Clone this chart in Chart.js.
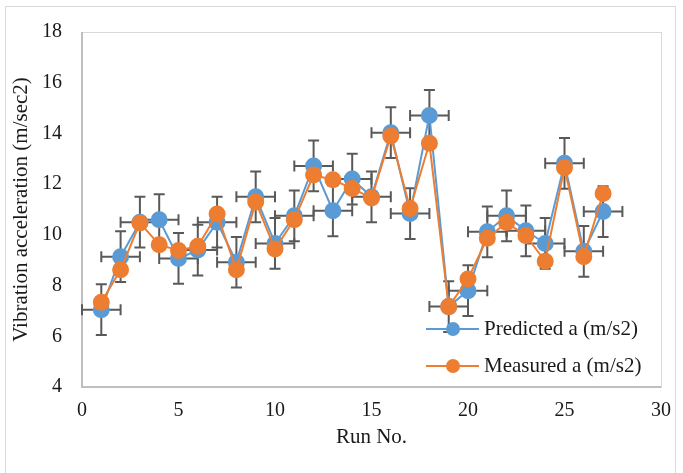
<!DOCTYPE html>
<html>
<head>
<meta charset="utf-8">
<script src="https://cdn.jsdelivr.net/npm/chart.js@4.4.0/dist/chart.umd.min.js"></script>
<style>
  html, body { margin: 0; padding: 0; background: #fff; }
  #wrap { position: relative; width: 683px; height: 473px; }
  #frame { position: absolute; left: 5px; top: 6px; width: 669px; height: 480px; border: 1px solid #d9d9d9; }
</style>
</head>
<body>
<div id="wrap">
  <div id="frame"></div>
  <canvas id="vibChart" width="683" height="473"></canvas>
</div>
<script>
var runs = [1, 2, 3, 4, 5, 6, 7, 8, 9, 10, 11, 12, 13, 14, 15, 16, 17, 18, 19, 20, 21, 22, 23, 24, 25, 26, 27];
var predicted = [7.05, 9.14, 10.5, 10.6, 9.07, 9.4, 10.5, 8.92, 11.5, 9.66, 10.75, 12.72, 10.95, 12.2, 11.5, 14.03, 10.84, 14.71, 7.17, 7.8, 10.12, 10.75, 10.16, 9.66, 12.82, 9.35, 10.92];
var measured = [7.34, 8.62, 10.47, 9.61, 9.38, 9.55, 10.82, 8.62, 11.3, 9.44, 10.6, 12.36, 12.17, 11.83, 11.45, 13.9, 11.04, 13.61, 7.17, 8.26, 9.87, 10.49, 9.97, 8.96, 12.65, 9.14, 11.63];
var xErr = 1;
var yErr = 1;
var seriesNames = ["Predicted a (m/s2)", "Measured a (m/s2)"];

var blue = '#5b9bd5';
var orange = '#ed7d31';
var fontFam = "'Liberation Serif', 'Times New Roman', serif";
var textCol = '#1a1a1a';

function pts(vals) {
    return runs.map(function (r, i) { return { x: r, y: vals[i] }; });
}

// error bars for the predicted series, drawn just under its markers
var errorBars = {
    id: 'errorBars',
    beforeDatasetDraw: function (chart, args) {
        if (args.index !== 0) return;
        var xs = chart.scales.x, ys = chart.scales.y, ctx = chart.ctx;
        var cap = 5.5;
        ctx.save();
        ctx.strokeStyle = '#595959';
        ctx.lineWidth = 2;
        runs.forEach(function (r, i) {
            var v = predicted[i];
            var px = xs.getPixelForValue(r), py = ys.getPixelForValue(v);
            var x0 = xs.getPixelForValue(r - xErr), x1 = xs.getPixelForValue(r + xErr);
            var y0 = ys.getPixelForValue(v - yErr), y1 = ys.getPixelForValue(v + yErr);
            ctx.beginPath();
            ctx.moveTo(x0, py); ctx.lineTo(x1, py);
            ctx.moveTo(x0, py - cap); ctx.lineTo(x0, py + cap);
            ctx.moveTo(x1, py - cap); ctx.lineTo(x1, py + cap);
            ctx.moveTo(px, y0); ctx.lineTo(px, y1);
            ctx.moveTo(px - cap, y0); ctx.lineTo(px + cap, y0);
            ctx.moveTo(px - cap, y1); ctx.lineTo(px + cap, y1);
            ctx.stroke();
        });
        ctx.restore();
    }
};

// plot border + legend inside the plot area
var frameAndLegend = {
    id: 'frameAndLegend',
    beforeDatasetsDraw: function (chart) {
        var a = chart.chartArea, ctx = chart.ctx;
        ctx.save();
        ctx.strokeStyle = '#d9d9d9';
        ctx.lineWidth = 1;
        ctx.strokeRect(a.left + 0.5, a.top + 0.5, a.right - a.left, a.bottom - a.top);
        ctx.strokeStyle = '#bfbfbf';
        ctx.lineWidth = 2;
        ctx.beginPath();
        ctx.moveTo(a.left, a.top); ctx.lineTo(a.left, a.bottom); ctx.lineTo(a.right, a.bottom);
        ctx.stroke();
        ctx.restore();
    },
    afterDraw: function (chart) {
        var ctx = chart.ctx;
        var cols = [blue, orange];
        var ys = [329, 366];
        ctx.save();
        ctx.font = "21px " + fontFam;
        ctx.textBaseline = 'middle';
        for (var i = 0; i < 2; i++) {
            ctx.strokeStyle = cols[i];
            ctx.lineWidth = 2;
            ctx.beginPath();
            ctx.moveTo(426, ys[i]); ctx.lineTo(479, ys[i]);
            ctx.stroke();
            ctx.fillStyle = cols[i];
            ctx.beginPath();
            ctx.arc(453, ys[i], 7, 0, Math.PI * 2);
            ctx.fill();
            ctx.fillStyle = textCol;
            ctx.fillText(seriesNames[i], 484, ys[i]);
        }
        ctx.restore();
    }
};

var ctx1 = document.getElementById('vibChart');

var vibChart = new Chart(ctx1, {
    type: 'scatter',
    data: {
        datasets: [{
            label: seriesNames[0],
            data: pts(predicted),
            showLine: true,
            borderColor: blue,
            backgroundColor: blue,
            borderWidth: 2,
            pointRadius: 7.5,
            pointHoverRadius: 7.5,
            order: 1
        }, {
            label: seriesNames[1],
            data: pts(measured),
            showLine: true,
            borderColor: orange,
            backgroundColor: orange,
            borderWidth: 2,
            pointRadius: 7.5,
            pointHoverRadius: 7.5,
            order: 0
        }]
    },
    options: {
        responsive: false,
        animation: false,
        layout: { padding: { top: 31, right: 22, left: 0, bottom: 0 } },
        plugins: {
            legend: { display: false },
            tooltip: { enabled: false }
        },
        scales: {
            x: {
                type: 'linear',
                min: 0,
                max: 30,
                grid: { display: false, drawTicks: false },
                border: { display: false },
                ticks: { stepSize: 5, color: textCol, font: { family: fontFam, size: 20 }, padding: 12 },
                title: { display: true, text: 'Run No.', color: textCol, font: { family: fontFam, size: 21 }, padding: { top: 0, bottom: 23 } },
                afterFit: function (s) { s.height = 86; }
            },
            y: {
                min: 4,
                max: 18,
                grid: { display: false, drawTicks: false },
                border: { display: false },
                ticks: { stepSize: 2, color: textCol, font: { family: fontFam, size: 20 }, padding: 20 },
                title: { display: true, text: 'Vibration acceleration (m/sec2)', color: textCol, font: { family: fontFam, size: 21 }, padding: { top: 9, bottom: 0 } },
                afterFit: function (s) { s.width = 82; }
            }
        }
    },
    plugins: [errorBars, frameAndLegend]
});
</script>
</body>
</html>
